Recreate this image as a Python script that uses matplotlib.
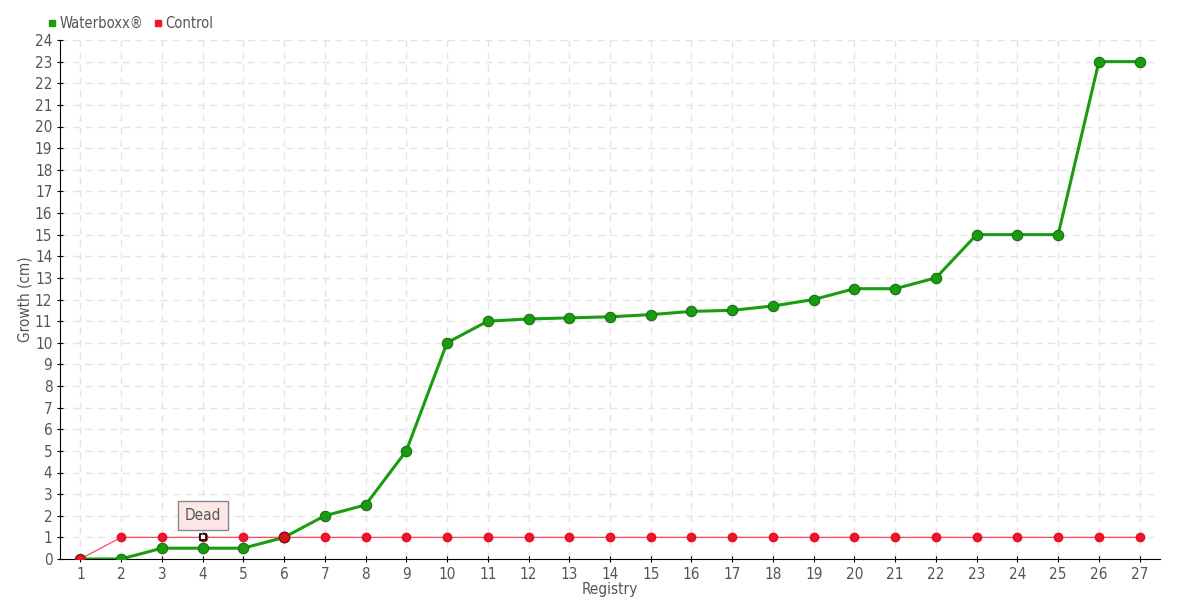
import matplotlib
matplotlib.use('Agg')
import matplotlib.pyplot as plt
from matplotlib.lines import Line2D

##-Data
registry = list(range(1, 28))
waterboxx = [0, 0, 0.5, 0.5, 0.5, 1, 2, 2.5, 5, 10, 11, 11.1, 11.15, 11.2, 11.3,
             11.45, 11.5, 11.7, 12, 12.5, 12.5, 13, 15, 15, 15, 23, 23]
control = [0] + [1] * 26
dead_index = 4

##-Style
plt.rcParams['font.family'] = ['DejaVu Sans']
plt.rcParams['font.stretch'] = 'condensed'
txt = '#555555'
green = '#1a9c10'
red = '#f0142c'

fig = plt.figure(figsize=(11.8, 6), dpi=100)
ax = fig.add_axes([60 / 1180, 41 / 600, 1100 / 1180, 519 / 600])

ax.plot(registry, control, color='#ff4a5a', lw=0.9, zorder=3)
ax.plot(registry, control, 'o', color=red, ms=6, mec='#e01020', zorder=4)

ax.plot(registry, waterboxx, color=green, lw=2.2, zorder=5)
ax.plot(registry, waterboxx, 'o', color=green, ms=7.5, mec='#17700f', mew=0.8, zorder=6)

# first control point sits on top of the green one
ax.plot(registry[0], control[0], 'o', color=red, ms=6.5, mec='#b01010', zorder=7)
ax.plot(6, 1, 'o', color='#d8101e', ms=7.5, mec='#8a1010', zorder=7)

# dead marker + tooltip
ax.plot(dead_index, control[dead_index - 1], 's', color='white', mec='black', ms=4.5, mew=1.2, zorder=8)
ax.annotate('Dead', xy=(dead_index, control[dead_index - 1]), xytext=(0, 16), textcoords='offset points',
            ha='center', va='center', fontsize=11, color=txt,
            bbox=dict(boxstyle='square,pad=0.45', fc='#fde6e6', ec='#888888', lw=1),
            arrowprops=dict(arrowstyle='-', color='#888888', lw=0.8), zorder=9)

ax.set_xlim(0.5, 27.5)
ax.set_ylim(0, 24)
ax.set_xticks(registry)
ax.set_yticks(range(0, 25))
ax.grid(True, color='#e4e4e4', ls=(0, (5, 4)), lw=1)
ax.set_axisbelow(True)

for s in ('top', 'right'):
    ax.spines[s].set_visible(False)
ax.spines['left'].set_color('black')
ax.spines['bottom'].set_color('black')
ax.tick_params(axis='both', colors='black', labelcolor=txt, labelsize=11, length=4, direction='inout')

ax.set_xlabel('Registry', color=txt, fontsize=11, labelpad=0)
ax.set_ylabel('Growth (cm)', color=txt, fontsize=11, labelpad=2)

handles = [Line2D([], [], marker='s', ls='', color=green, ms=5),
           Line2D([], [], marker='s', ls='', color=red, ms=5)]
fig.legend(handles, ['Waterboxx®', 'Control'], loc='upper left', bbox_to_anchor=(0.028, 0.995),
           ncol=2, frameon=False, fontsize=10.5, labelcolor=txt, handletextpad=0.1,
           columnspacing=0.6, handlelength=0.8)

fig.savefig('out.png', dpi=100)
